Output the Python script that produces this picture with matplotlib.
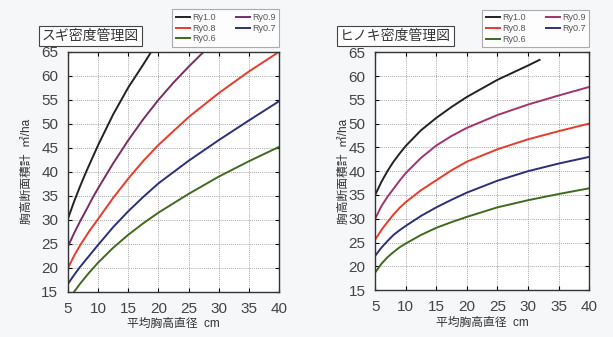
import matplotlib
matplotlib.use('Agg')
import matplotlib.pyplot as plt

plt.rcParams['font.family'] = ['Liberation Sans', 'Noto Sans CJK JP', 'DejaVu Sans']

## mean DBH (cm) -> basal area (m2/ha) per Ry line
labels = ['Ry1.0', 'Ry0.9', 'Ry0.8', 'Ry0.7', 'Ry0.6']

# スギ
sugi_d = [
    [5, 6, 7, 8, 9, 10, 12.5, 15, 17.5, 18.8],
    [5, 6, 7, 8, 9, 10, 12.5, 15, 17.5, 20, 22.5, 25, 27.5],
    [5, 6, 7, 8.5, 10, 12.5, 15, 17.5, 20, 25, 30, 35, 40],
    [5, 6, 7, 8.5, 10, 12.5, 15, 17.5, 20, 25, 30, 35, 40],
    [5, 6, 7, 8.5, 10, 12.5, 15, 17.5, 20, 25, 30, 35, 40],
]
sugi_g = [
    [30.3, 33.8, 37.0, 40.0, 42.8, 45.6, 52.0, 57.6, 62.4, 65.0],
    [24.5, 27.2, 29.7, 32.0, 34.4, 36.6, 41.8, 46.6, 51.0, 55.0, 58.6, 61.9, 65.0],
    [20.0, 22.5, 24.7, 27.6, 30.2, 34.6, 38.6, 42.3, 45.6, 51.4, 56.4, 60.9, 65.0],
    [16.7, 18.5, 20.2, 22.5, 24.8, 28.5, 31.8, 34.8, 37.6, 42.3, 46.6, 50.7, 54.7],
    [13.2, 15.0, 16.7, 19.0, 21.1, 24.2, 26.9, 29.3, 31.5, 35.4, 39.0, 42.2, 45.2],
]

# ヒノキ
hinoki_d = [
    [5, 6, 7, 8, 9, 10, 12.5, 15, 17.5, 20, 25, 30, 31.9],
    [5, 6, 7, 8, 9, 10, 12.5, 15, 17.5, 20, 25, 30, 35, 40],
    [5, 6, 7, 8, 9, 10, 12.5, 15, 17.5, 20, 25, 30, 35, 40],
    [5, 6, 7, 8, 9, 10, 12.5, 15, 17.5, 20, 25, 30, 35, 40],
    [5, 6, 7, 8, 9, 10, 12.5, 15, 17.5, 20, 25, 30, 35, 40],
]
hinoki_g = [
    [35.0, 37.7, 40.0, 42.0, 43.7, 45.3, 48.6, 51.2, 53.5, 55.6, 59.2, 62.2, 63.4],
    [30.0, 32.6, 34.6, 36.3, 38.0, 39.6, 42.8, 45.4, 47.4, 49.1, 51.8, 54.0, 55.9, 57.7],
    [25.6, 27.6, 29.3, 30.9, 32.3, 33.5, 36.0, 38.1, 40.2, 42.0, 44.6, 46.7, 48.4, 50.0],
    [22.2, 23.9, 25.3, 26.6, 27.6, 28.5, 30.6, 32.4, 34.0, 35.5, 38.0, 40.0, 41.6, 43.0],
    [18.7, 20.5, 21.9, 23.0, 24.0, 24.8, 26.6, 28.1, 29.3, 30.4, 32.4, 33.9, 35.2, 36.4],
]

xticks = [5, 10, 15, 20, 25, 30, 35, 40]
yticks = [15, 20, 25, 30, 35, 40, 45, 50, 55, 60, 65]

sugi_colors = ['#222222', '#7a2c62', '#e83a2a', '#2c2f7c', '#3f6b1e']
hinoki_colors = ['#222222', '#a3336e', '#e83a2a', '#2c2f7c', '#3f6b1e']


fig = plt.figure(figsize=(6.13, 3.37), dpi=100)
fig.patch.set_facecolor('#f6f7f8')

ax1 = fig.add_axes([0.111, 0.134, 0.344, 0.712])
ax2 = fig.add_axes([0.612, 0.139, 0.349, 0.706])

def draw(ax, dd, gg, colors, title, title_x, ylab_x):
    lines = []
    for d, g, c, lab in zip(dd, gg, colors, labels):
        l, = ax.plot(d, g, color=c, lw=1.4, label=lab)
        lines.append(l)
    ax.set_xlim(5, 40)
    ax.set_ylim(15, 65)
    ax.set_xticks(xticks)
    ax.set_yticks(yticks)
    ax.grid(True, color='#8a8a8a', ls=(0, (1, 1.5)), lw=0.6)
    ax.tick_params(axis='both', direction='in', length=3, width=0.8,
                   labelsize=11, labelcolor='#444444', top=True, right=True)
    ax.tick_params(axis='y', pad=7)
    ax.tick_params(axis='x', pad=7)
    for s in ax.spines.values():
        s.set_linewidth(1.0)
        s.set_color('#333333')
    ax.set_xlabel('平均胸高直径  cm', fontsize=8.5, color='#333333', labelpad=2)
    ax.set_ylabel('胸高断面積計  ㎡/ha', fontsize=8.5, color='#333333')
    ax.yaxis.set_label_coords(ylab_x, 0.5)
    fig.text(title_x, 1 - 36 / 337, title, fontsize=10, color='#333333',
             ha='left', va='center',
             bbox=dict(boxstyle='square,pad=0.2', fc='white', ec='#444444', lw=0.8))
    # row-wise order in a 2-column legend
    order = [0, 2, 4, 1, 3]
    leg = ax.legend([lines[i] for i in order], [labels[i] for i in order],
                    ncol=2, loc='lower right', bbox_to_anchor=(1.0, 1.02),
                    fontsize=6.5, handlelength=1.6, handletextpad=0.2,
                    columnspacing=2.2, labelspacing=0.2, borderpad=0.4,
                    frameon=True, fancybox=False, borderaxespad=0)
    leg.get_frame().set_edgecolor('#999999')
    leg.get_frame().set_linewidth(0.8)
    for t in leg.get_texts():
        t.set_color('#555555')

draw(ax1, sugi_d, sugi_g, sugi_colors, 'スギ密度管理図', 42 / 613, -0.165)
draw(ax2, hinoki_d, hinoki_g, hinoki_colors, 'ヒノキ密度管理図', 340 / 613, -0.12)

fig.savefig('out.png', dpi=100, facecolor=fig.get_facecolor())
